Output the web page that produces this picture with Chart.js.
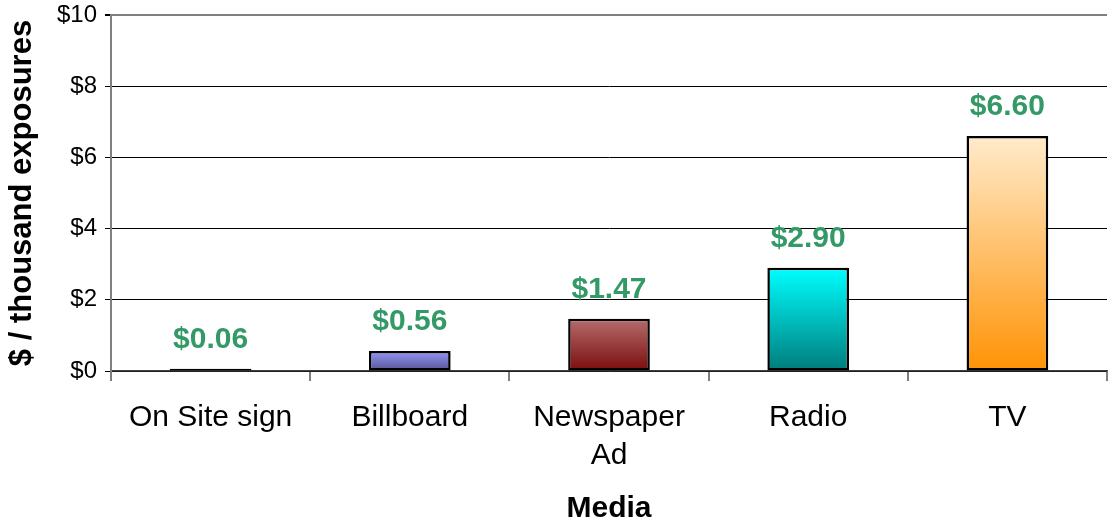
<!DOCTYPE html>
<html>
<head>
<meta charset="utf-8">
<title>Cost per thousand exposures</title>
<script src="https://cdn.jsdelivr.net/npm/chart.js@4/dist/chart.umd.min.js"></script>
<style>
  html, body { margin: 0; padding: 0; background: #fff; }
  #wrap { width: 1109px; height: 525px; }
</style>
</head>
<body>
<div id="wrap"><canvas id="chart" width="1109" height="525"></canvas></div>
<script>
// データ
const categories = ['On Site sign', 'Billboard', ['Newspaper', 'Ad'], 'Radio', 'TV'];
const costPerThousand = [0.06, 0.56, 1.47, 2.90, 6.60];
const yTicks = [0, 2, 4, 6, 8, 10];

// バーのグラデーション（上→下）
const topColors = ['#800000', '#9797FA', '#B56C6C', '#00FFFF', '#FFEBCC'];
const bottomColors = ['#800000', '#54548F', '#7B0D0D', '#007C7C', '#FF9305'];

Chart.defaults.font.family = '"Liberation Sans", Arial, sans-serif';
Chart.defaults.color = '#000';

// 値ラベル
const valueLabels = {
    id: 'valueLabels',
    afterDatasetsDraw(chart) {
        const ctx = chart.ctx;
        const meta = chart.getDatasetMeta(0);
        ctx.save();
        ctx.font = 'bold 30px "Liberation Sans", Arial, sans-serif';
        ctx.fillStyle = '#339966';
        ctx.textAlign = 'center';
        ctx.textBaseline = 'alphabetic';
        meta.data.forEach((bar, i) => {
            ctx.fillText('$' + costPerThousand[i].toFixed(2), bar.x, bar.y - 21);
        });
        ctx.restore();
    }
};

function barGradient(context) {
    const chart = context.chart;
    const i = context.dataIndex;
    if (!chart.chartArea || !chart.scales.y) return topColors[i];
    const y = chart.scales.y;
    const top = y.getPixelForValue(costPerThousand[i]);
    const bottom = y.getPixelForValue(0);
    if (!isFinite(top) || !isFinite(bottom) || top === bottom) return topColors[i];
    const g = chart.ctx.createLinearGradient(0, top, 0, bottom);
    g.addColorStop(0, topColors[i]);
    g.addColorStop(1, bottomColors[i]);
    return g;
}

new Chart(document.getElementById('chart'), {
    type: 'bar',
    data: {
        labels: categories,
        datasets: [{
            data: costPerThousand,
            backgroundColor: barGradient,
            borderColor: '#000',
            borderWidth: 2.5,
            borderSkipped: false,
            categoryPercentage: 1,
            barPercentage: 0.41
        }]
    },
    options: {
        responsive: false,
        animation: false,
        layout: { padding: { top: 15, right: 2, left: 0, bottom: 0 } },
        plugins: {
            legend: { display: false },
            tooltip: { enabled: false }
        },
        scales: {
            x: {
                afterFit: (scale) => { scale.height = 154; },
                grid: {
                    offset: true,
                    drawOnChartArea: true,
                    color: (c) => c.index === categories.length ? '#808080' : 'rgba(0,0,0,0)',
                    lineWidth: 2,
                    tickColor: '#000',
                    tickWidth: 1,
                    tickLength: 10
                },
                border: { color: '#404040', width: 1.5 },
                ticks: {
                    font: { size: 30, lineHeight: 1.25 },
                    padding: 18,
                    maxRotation: 0,
                    autoSkip: false
                },
                title: {
                    display: true,
                    text: 'Media',
                    font: { size: 30, weight: 'bold', lineHeight: 1.1 },
                    padding: { top: 0, bottom: 0 }
                }
            },
            y: {
                min: 0,
                max: 10,
                afterFit: (scale) => {
                    scale.width = 111;
                    scale.paddingTop = 0;
                    scale.paddingBottom = 0;
                },
                afterBuildTicks: (scale) => { scale.ticks = yTicks.map(v => ({ value: v })); },
                grid: {
                    color: (c) => c.tick && c.tick.value === 10 ? '#808080' : '#000',
                    lineWidth: (c) => c.tick && c.tick.value === 10 ? 2 : 1,
                    tickColor: '#000',
                    tickLength: 6
                },
                border: { color: '#808080', width: 2 },
                ticks: {
                    font: { size: 24 },
                    padding: 8,
                    callback: (v) => '$' + v
                },
                title: {
                    display: true,
                    text: '$ / thousand exposures',
                    font: { size: 31, weight: 'bold' },
                    padding: { top: 4, bottom: 0 }
                }
            }
        }
    },
    plugins: [valueLabels]
});
</script>
</body>
</html>
